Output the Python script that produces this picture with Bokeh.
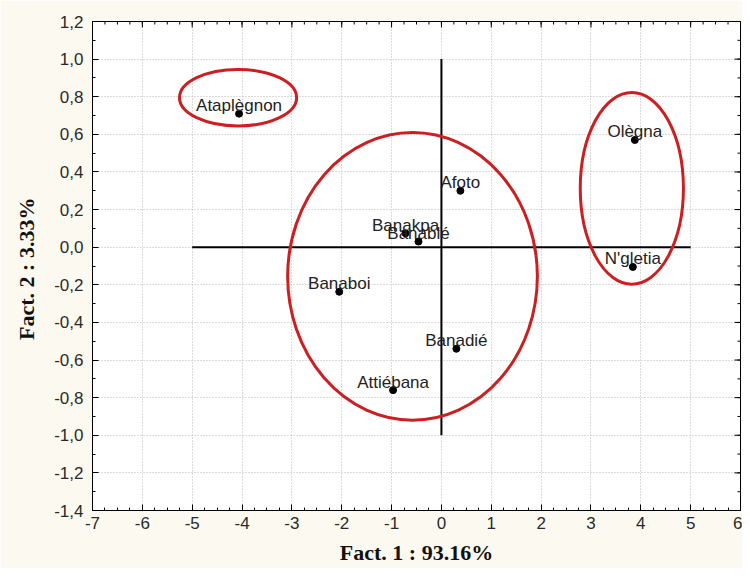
import numpy as np
from bokeh.plotting import figure
from bokeh.models import Range1d, FixedTicker
from bokeh.core.properties import value
from bokeh.embed import file_html
from bokeh.resources import INLINE

# --- data ---
names = ["Ataplègnon", "Olègna", "N'gletia", "Afoto", "Banakpa",
         "Banablé", "Banaboi", "Banadié", "Attiébana"]
fact1 = [-4.06, 3.88, 3.84, 0.38, -0.72, -0.46, -2.05, 0.30, -0.97]
fact2 = [0.71, 0.57, -0.105, 0.30, 0.074, 0.03, -0.237, -0.54, -0.76]

# group ellipses (centre, width, height in factor units)
group_x = [-4.08, -0.58, 3.82]
group_y = [0.795, -0.155, 0.313]
group_w = [2.35, 5.01, 2.07]
group_h = [0.30, 1.53, 1.02]

# origin cross
cross_x0 = [-5, 0]
cross_y0 = [0, -1.0]
cross_x1 = [5, 0]
cross_y1 = [0, 1.0]

x_ticks = [-7, -6, -5, -4, -3, -2, -1, 0, 1, 2, 3, 4, 5, 6]
x_tick_labels = ["-7", "-6", "-5", "-4", "-3", "-2", "-1", "0", "1", "2", "3", "4", "5", "6"]
y_ticks = [-1.4, -1.2, -1.0, -0.8, -0.6, -0.4, -0.2, 0.0, 0.2, 0.4, 0.6, 0.8, 1.0, 1.2]
y_tick_labels = ["-1,4", "-1,2", "-1,0", "-0,8", "-0,6", "-0,4", "-0,2",
                 "0,0", "0,2", "0,4", "0,6", "0,8", "1,0", "1,2"]

x_minor = [float(v) for v in np.arange(-7, 6.001, 0.25)]
y_minor = [round(float(v), 2) for v in np.arange(-1.4, 1.2001, 0.1)]

X_MIN, X_MAX = -7, 6
Y_MIN, Y_MAX = -1.4, 1.2

FONT = "Liberation Sans"
RED = "#cc1f22"

p = figure(width=742, height=568, output_backend="svg", toolbar_location=None,
           x_range=Range1d(X_MIN, X_MAX), y_range=Range1d(Y_MIN, Y_MAX),
           min_border_left=92, min_border_right=2, min_border_top=21,
           min_border_bottom=58,
           background_fill_color="white", border_fill_color="#fcfaf0",
           outline_line_color="black", outline_line_width=1)

xt = FixedTicker(ticks=x_ticks, minor_ticks=x_minor)
yt = FixedTicker(ticks=y_ticks, minor_ticks=y_minor)

for ax, ticker, labels, ticks in ((p.xaxis[0], xt, x_tick_labels, x_ticks),
                                  (p.yaxis[0], yt, y_tick_labels, y_ticks)):
    ax.ticker = ticker
    ax.major_label_overrides = {t: l for t, l in zip(ticks, labels)}
    ax.major_tick_in = 6
    ax.major_tick_out = 0
    ax.minor_tick_in = 3
    ax.minor_tick_out = 0
    ax.axis_line_color = "black"
    ax.major_tick_line_color = "black"
    ax.minor_tick_line_color = "black"
    ax.major_label_text_font = FONT
    ax.major_label_text_font_size = "17px"
    ax.major_label_text_color = "#2a2a2a"
    ax.axis_label_text_font = "Liberation Serif"
    ax.axis_label_text_font_style = "bold"
    ax.axis_label_text_font_size = "22px"
    ax.axis_label_text_color = "#111111"

p.xaxis[0].axis_label = "Fact. 1 : 93.16%"
p.yaxis[0].axis_label = "Fact. 2 :  3.33%"
p.xaxis[0].major_label_standoff = 6
p.yaxis[0].major_label_standoff = 9
p.xaxis[0].axis_label_standoff = 8
p.yaxis[0].axis_label_standoff = 12

# inward ticks on the top and right frame edges (half of each dash is clipped)
p.scatter(x=x_ticks, y=[Y_MAX] * len(x_ticks), marker="dash", angle=np.pi / 2,
          size=12, line_color="black", line_width=1)
p.scatter(x=x_minor, y=[Y_MAX] * len(x_minor), marker="dash", angle=np.pi / 2,
          size=6, line_color="black", line_width=1)
p.scatter(x=[X_MAX] * len(y_ticks), y=y_ticks, marker="dash",
          size=12, line_color="black", line_width=1)
p.scatter(x=[X_MAX] * len(y_minor), y=y_minor, marker="dash",
          size=6, line_color="black", line_width=1)

for g in (p.xgrid[0], p.ygrid[0]):
    g.grid_line_color = "#b8b8b8"
    g.grid_line_dash = "1 2"
    g.grid_line_width = 1
p.xgrid[0].ticker = xt
p.ygrid[0].ticker = yt

p.segment(x0=cross_x0, y0=cross_y0, x1=cross_x1, y1=cross_y1,
          line_color="black", line_width=2)

p.ellipse(x=group_x, y=group_y, width=group_w, height=group_h,
          fill_color=None, line_color=RED, line_width=3)

p.scatter(x=fact1, y=fact2, size=7, color="black")
p.text(x=fact1, y=fact2, text=names, text_align="center",
       text_baseline="alphabetic", y_offset=-8,
       text_font=value(FONT), text_font_size="17px", text_color="#222222")

open("out.html", "w").write(file_html(p, INLINE))
